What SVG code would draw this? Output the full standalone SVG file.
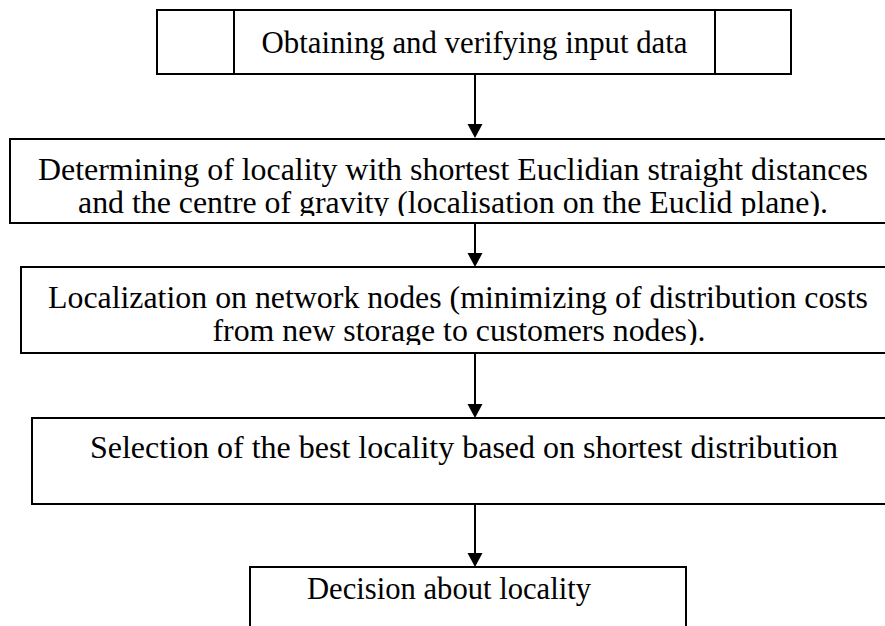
<svg xmlns="http://www.w3.org/2000/svg" width="885" height="626" viewBox="0 0 885 626">
<style>
.box{fill:#fff;stroke:#000;stroke-width:2}
.t{font-family:"Liberation Serif","Times New Roman",serif;font-size:32px;fill:#000;text-anchor:middle}
.c{stroke:#000;stroke-width:2;fill:none}
</style>
<defs>
<clipPath id="clip2"><rect x="0" y="139" width="885" height="77"/></clipPath>
<clipPath id="clip3"><rect x="0" y="267" width="885" height="78"/></clipPath>
</defs>
<rect width="885" height="626" fill="#fff"/>
<g id="connectors">
<line class="c" x1="475" y1="74" x2="475" y2="124"/>
<path d="M467.5,124 L482.5,124 L475,138 Z"/>
<line class="c" x1="475" y1="223" x2="475" y2="253"/>
<path d="M467.5,253 L482.5,253 L475,267 Z"/>
<line class="c" x1="475" y1="353" x2="475" y2="404"/>
<path d="M467.5,404 L482.5,404 L475,418 Z"/>
<line class="c" x1="475" y1="504" x2="475" y2="553"/>
<path d="M467.5,553 L482.5,553 L475,567 Z"/>
</g>
<g id="n1">
<rect class="box" x="157" y="10" width="634" height="64"/>
<line class="c" x1="234" y1="10" x2="234" y2="74"/>
<line class="c" x1="715" y1="10" x2="715" y2="74"/>
<text class="t" x="474.5" y="53" textLength="426" lengthAdjust="spacingAndGlyphs">Obtaining and verifying input data</text>
</g>
<g id="n2">
<rect class="box" x="10" y="139" width="890" height="84"/>
<g clip-path="url(#clip2)">
<text class="t" x="453" y="180" textLength="830" lengthAdjust="spacingAndGlyphs">Determining of locality with shortest Euclidian straight distances</text>
<text class="t" x="453" y="213" textLength="750" lengthAdjust="spacingAndGlyphs">and the centre of gravity (localisation on the Euclid plane).</text>
</g>
</g>
<g id="n3">
<rect class="box" x="21" y="267" width="880" height="86"/>
<g clip-path="url(#clip3)">
<text class="t" x="458" y="308" textLength="820" lengthAdjust="spacingAndGlyphs">Localization on network nodes (minimizing of distribution costs</text>
<text class="t" x="459" y="341" textLength="493" lengthAdjust="spacingAndGlyphs">from new storage to customers nodes).</text>
</g>
</g>
<g id="n4">
<rect class="box" x="32" y="418" width="870" height="86"/>
<text class="t" x="464" y="458" textLength="748" lengthAdjust="spacingAndGlyphs">Selection of the best locality based on shortest distribution</text>
</g>
<g id="n5">
<rect class="box" x="250" y="567" width="436" height="80"/>
<text class="t" x="449" y="599" textLength="284" lengthAdjust="spacingAndGlyphs">Decision about locality</text>
</g>
</svg>
